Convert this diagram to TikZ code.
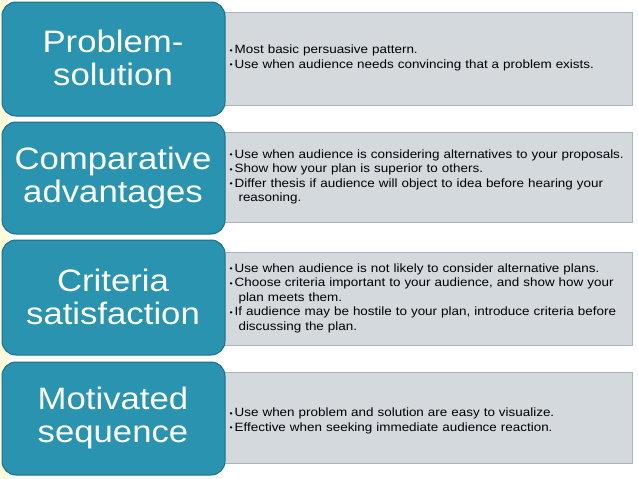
\documentclass[tikz,border=0pt]{standalone}
\usepackage{fontspec}
\setmainfont{Liberation Sans}
\newfontfamily\widefont[FakeStretch=1.12]{Liberation Sans}
\definecolor{bluebox}{HTML}{2A93B0}
\definecolor{bluedark}{HTML}{1F6F88}
\definecolor{graybox}{HTML}{D3D9DD}
\definecolor{grayedge}{HTML}{A9B3BA}
\begin{document}
\begin{tikzpicture}[x=1pt,y=-1pt,
  head/.style={rounded corners=14pt, fill=bluebox, draw=bluedark, line width=1pt},
  htxt/.style={text=white, align=center, font=\widefont\fontsize{31}{33}\selectfont},
  info/.style={fill=graybox, draw=grayedge, line width=0.6pt},
  txt/.style={anchor=west, align=left, font=\widefont\fontsize{12}{14.5}\selectfont, text width=395pt}]
\useasboundingbox[fill=white] (0,0) rectangle (638,479);
\fill[yellow!15!white] (0,0) rectangle (8,479);
\foreach \i/\ya/\yb/\ga/\gb in {1/2/116/12/105, 2/122/234/132/222, 3/240/355/252/345, 4/362/475/372/463}{
  \draw[info] (210,\ga) rectangle (632,\gb);
  \draw[head] (2,\ya) rectangle (225,\yb);
}
\node[htxt] (h1) at (113,58) {Problem-\\solution};
\node[htxt] (h2) at (113,178) {Comparative\\advantages};
\node[htxt] (h3) at (113,297) {Criteria\\satisfaction};
\node[htxt] (h4) at (113,418) {Motivated\\sequence};
\newcommand{\bl}[1]{\hangindent=9pt\hangafter=1 {\fontsize{8}{8}\selectfont\raisebox{0.6pt}{•}}\,#1\par}
\node[txt] (t1) at (226,58) {\bl{Most basic persuasive pattern.}\bl{Use when audience needs convincing that a problem exists.}};
\node[txt] (t2) at (226,177) {\bl{Use when audience is considering alternatives to your proposals.}\bl{Show how your plan is superior to others.}\bl{Differ thesis if audience will object to idea before hearing your reasoning.}};
\node[txt] (t3) at (226,298) {\bl{Use when audience is not likely to consider alternative plans.}\bl{Choose criteria important to your audience, and show how your plan meets them.}\bl{If audience may be hostile to your plan, introduce criteria before discussing the plan.}};
\node[txt] (t4) at (226,421) {\bl{Use when problem and solution are easy to visualize.}\bl{Effective when seeking immediate audience reaction.}};
\end{tikzpicture}
\end{document}
